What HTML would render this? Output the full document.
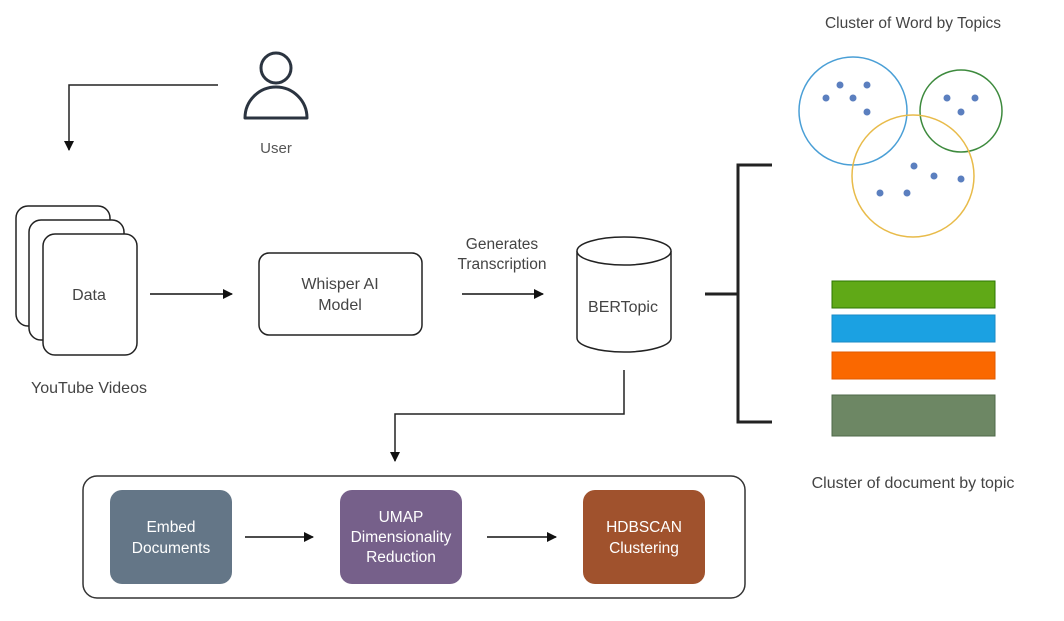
<!DOCTYPE html>
<html><head><meta charset="utf-8"><style>
html,body{margin:0;padding:0;background:#fff;}
svg{display:block;font-family:"Liberation Sans",sans-serif;}
</style></head><body>
<svg width="1064" height="621" viewBox="0 0 1064 621" xmlns="http://www.w3.org/2000/svg">
<defs><marker id="a" markerWidth="10" markerHeight="10" refX="9" refY="5" orient="auto" markerUnits="userSpaceOnUse"><path d="M0,0 L10,5 L0,10 z" fill="#111"/></marker></defs>
<rect width="1064" height="621" fill="#fff"/>
<!-- user -->
<circle cx="276" cy="68" r="15" fill="none" stroke="#2b3440" stroke-width="3"/>
<path d="M245,118 A31,31 0 0 1 307,118 Z" fill="none" stroke="#2b3440" stroke-width="3" stroke-linejoin="round"/>
<text x="276" y="153" font-size="15" fill="#555" text-anchor="middle">User</text>
<path d="M218,85 H69 V150" fill="none" stroke="#222" stroke-width="1.5" marker-end="url(#a)"/>
<!-- cards -->
<rect x="16" y="206" width="94" height="120" rx="12" fill="#fff" stroke="#222" stroke-width="1.5"/>
<rect x="29" y="220" width="95" height="120" rx="12" fill="#fff" stroke="#222" stroke-width="1.5"/>
<rect x="43" y="234" width="94" height="121" rx="12" fill="#fff" stroke="#222" stroke-width="1.5"/>
<text x="89" y="300" font-size="16" fill="#444" text-anchor="middle">Data</text>
<text x="89" y="393" font-size="16" fill="#444" text-anchor="middle">YouTube Videos</text>
<path d="M150,294 H232" stroke="#111" stroke-width="1.5" marker-end="url(#a)"/>
<rect x="259" y="253" width="163" height="82" rx="10" fill="#fff" stroke="#222" stroke-width="1.5"/>
<text x="340" y="289" font-size="16" fill="#444" text-anchor="middle">Whisper AI</text>
<text x="340" y="310" font-size="16" fill="#444" text-anchor="middle">Model</text>
<text x="502" y="249" font-size="15.5" fill="#444" text-anchor="middle">Generates</text>
<text x="502" y="269" font-size="15.5" fill="#444" text-anchor="middle">Transcription</text>
<path d="M462,294 H543" stroke="#111" stroke-width="1.5" marker-end="url(#a)"/>
<!-- cylinder -->
<path d="M577,251 V338 A47,14 0 0 0 671,338 V251" fill="#fff" stroke="#222" stroke-width="1.5"/>
<ellipse cx="624" cy="251" rx="47" ry="14" fill="#fff" stroke="#222" stroke-width="1.5"/>
<text x="623" y="312" font-size="16" fill="#444" text-anchor="middle">BERTopic</text>
<path d="M624,370 V414 H395 V461" fill="none" stroke="#222" stroke-width="1.5" marker-end="url(#a)"/>
<!-- bracket -->
<path d="M705,294 H738 M772,165 H738 V422 H772" fill="none" stroke="#222" stroke-width="3"/>
<!-- clusters -->
<text x="913" y="28" font-size="15.5" fill="#444" text-anchor="middle">Cluster of Word by Topics</text>
<circle cx="853" cy="111" r="54" fill="none" stroke="#4a9fd6" stroke-width="1.5"/>
<circle cx="961" cy="111" r="41" fill="none" stroke="#3d8a3d" stroke-width="1.5"/>
<circle cx="913" cy="176" r="61" fill="none" stroke="#e8bb4a" stroke-width="1.5"/>
<g fill="#5b7fbf">
<circle cx="840" cy="85" r="3.5"/><circle cx="867" cy="85" r="3.5"/><circle cx="826" cy="98" r="3.5"/><circle cx="853" cy="98" r="3.5"/><circle cx="867" cy="112" r="3.5"/>
<circle cx="947" cy="98" r="3.5"/><circle cx="975" cy="98" r="3.5"/><circle cx="961" cy="112" r="3.5"/>
<circle cx="914" cy="166" r="3.5"/><circle cx="934" cy="176" r="3.5"/><circle cx="961" cy="179" r="3.5"/><circle cx="880" cy="193" r="3.5"/><circle cx="907" cy="193" r="3.5"/>
</g>
<rect x="832" y="281" width="163" height="27" fill="#60a917" stroke="#2d7600"/>
<rect x="832" y="315" width="163" height="27" fill="#1ba1e2" stroke="#1a8ac6"/>
<rect x="832" y="352" width="163" height="27" fill="#fa6800" stroke="#e05a00"/>
<rect x="832" y="395" width="163" height="41" fill="#6d8764" stroke="#4f6a48"/>
<text x="913" y="488" font-size="16" fill="#444" text-anchor="middle">Cluster of document by topic</text>
<!-- bottom -->
<rect x="83" y="476" width="662" height="122" rx="14" fill="#fff" stroke="#333" stroke-width="1.5"/>
<rect x="110" y="490" width="122" height="94" rx="12" fill="#647687"/>
<text x="171" y="532" font-size="15.5" fill="#fff" text-anchor="middle">Embed</text>
<text x="171" y="553" font-size="15.5" fill="#fff" text-anchor="middle">Documents</text>
<path d="M245,537 H313" stroke="#111" stroke-width="1.5" marker-end="url(#a)"/>
<rect x="340" y="490" width="122" height="94" rx="12" fill="#76608a"/>
<text x="401" y="522" font-size="15.5" fill="#fff" text-anchor="middle">UMAP</text>
<text x="401" y="542" font-size="15.5" fill="#fff" text-anchor="middle">Dimensionality</text>
<text x="401" y="562" font-size="15.5" fill="#fff" text-anchor="middle">Reduction</text>
<path d="M487,537 H556" stroke="#111" stroke-width="1.5" marker-end="url(#a)"/>
<rect x="583" y="490" width="122" height="94" rx="12" fill="#a0522d"/>
<text x="644" y="532" font-size="15.5" fill="#fff" text-anchor="middle">HDBSCAN</text>
<text x="644" y="553" font-size="15.5" fill="#fff" text-anchor="middle">Clustering</text>
</svg>
</body></html>
